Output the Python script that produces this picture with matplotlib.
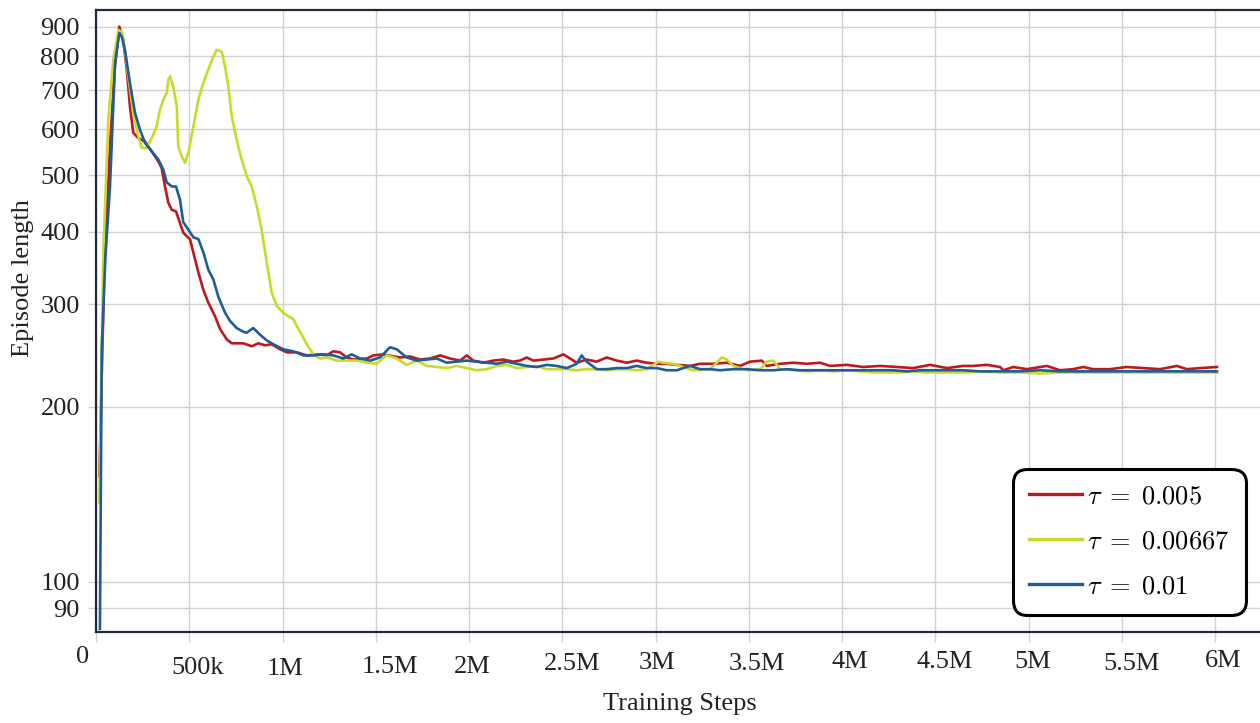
import numpy as np
import matplotlib
matplotlib.use('Agg')
import matplotlib.pyplot as plt
import matplotlib.transforms as mtransforms
from matplotlib.ticker import NullLocator

plt.rcParams['font.family'] = ['Liberation Serif', 'DejaVu Serif']
plt.rcParams['mathtext.fontset'] = 'cm'

# training steps in thousands, episode length
red_k = [18, 45, 75, 100, 125, 146, 165, 182, 200, 227,
         263, 299, 334, 352, 370, 388, 406, 429, 450, 468,
         504, 522, 549, 575, 602, 638, 665, 701, 728, 763,
         790, 835, 870, 906, 942, 987, 1023, 1076, 1130, 1201,
         1237, 1272, 1308, 1344, 1380, 1452, 1487, 1541, 1594, 1630,
         1684, 1737, 1791, 1845, 1898, 1952, 1988, 2023, 2077, 2130,
         2184, 2238, 2273, 2309, 2345, 2399, 2452, 2506, 2542, 2577,
         2631, 2685, 2738, 2792, 2846, 2899, 2953, 3006, 3060, 3114,
         3185, 3239, 3310, 3382, 3453, 3507, 3570, 3596, 3668, 3739,
         3811, 3882, 3936, 4026, 4113, 4204, 4295, 4381, 4472, 4563,
         4649, 4703, 4777, 4847, 4865, 4918, 4991, 5098, 5169, 5239,
         5293, 5346, 5437, 5527, 5614, 5705, 5795, 5849, 5920, 6010]
red_v = [152, 350, 560, 760, 900, 855, 759, 656, 591, 579,
         571, 549, 528, 514, 478, 448, 436, 433, 414, 398,
         388, 368, 340, 318, 302, 286, 272, 261, 257, 257,
         257, 254, 257, 255, 256, 251, 248, 248, 245, 246,
         245, 249, 248, 243, 241, 242, 245, 246, 244, 243,
         244, 241, 242, 245, 242, 240, 245, 240, 238, 240,
         241, 239, 240, 243, 240, 241, 242, 246, 242, 238,
         241, 239, 243, 240, 238, 240, 238, 237, 237, 236,
         235, 237, 237, 238, 235, 239, 240, 235, 237, 238,
         237, 238, 235, 236, 234, 235, 234, 233, 236, 233,
         235, 235, 236, 234, 231, 234, 232, 235, 231, 232,
         234, 232, 232, 234, 233, 232, 235, 232, 233, 234]

yel_k = [18, 39, 66, 93, 120, 138, 155, 173, 200, 227,
         245, 272, 299, 325, 343, 361, 379, 388, 397, 414,
         433, 441, 460, 477, 495, 522, 549, 575, 602, 629,
         647, 674, 692, 709, 728, 754, 781, 808, 835, 862,
         888, 915, 942, 969, 1004, 1031, 1058, 1076, 1103, 1130,
         1165, 1201, 1237, 1291, 1344, 1398, 1452, 1505, 1559, 1612,
         1666, 1720, 1773, 1827, 1880, 1934, 1988, 2041, 2095, 2149,
         2202, 2256, 2309, 2363, 2417, 2470, 2524, 2577, 2631, 2685,
         2738, 2792, 2846, 2899, 2953, 3015, 3042, 3096, 3149, 3203,
         3292, 3328, 3355, 3382, 3418, 3489, 3561, 3596, 3632, 3668,
         3739, 3811, 3882, 3954, 4026, 4097, 4167, 4238, 4310, 4381,
         4452, 4524, 4595, 4668, 4740, 4847, 4954, 5062, 5169, 5276,
         5383, 5490, 5598, 5705, 5812, 5920, 6010]
yel_v = [137, 368, 623, 789, 888, 882, 821, 739, 639, 583,
         557, 557, 579, 606, 648, 674, 692, 729, 739, 710,
         656, 560, 538, 525, 546, 606, 674, 720, 759, 799,
         821, 815, 768, 710, 631, 575, 532, 498, 478, 442,
         403, 354, 314, 298, 290, 286, 283, 275, 266, 256,
         246, 242, 243, 240, 240, 240, 238, 237, 245, 242,
         236, 240, 235, 234, 233, 235, 233, 231, 232, 235,
         236, 233, 234, 235, 232, 232, 232, 231, 232, 232,
         231, 232, 232, 231, 232, 239, 238, 237, 234, 231,
         232, 238, 243, 241, 235, 231, 232, 239, 240, 232,
         231, 230, 231, 230, 231, 230, 229, 229, 229, 230,
         229, 229, 229, 229, 230, 229, 229, 228, 229, 229,
         229, 229, 229, 229, 229, 229, 229]

blue_k = [21, 31, 50, 75, 102, 125, 138, 155, 182, 209,
          236, 263, 299, 334, 361, 379, 406, 429, 450, 468,
          495, 522, 549, 576, 602, 629, 656, 692, 718, 754,
          790, 808, 843, 879, 915, 951, 1004, 1058, 1112, 1165,
          1219, 1272, 1326, 1371, 1416, 1469, 1523, 1576, 1612, 1666,
          1720, 1773, 1827, 1880, 1934, 1988, 2041, 2095, 2149, 2202,
          2256, 2309, 2363, 2417, 2470, 2524, 2577, 2604, 2631, 2685,
          2738, 2792, 2846, 2899, 2953, 3006, 3060, 3114, 3185, 3239,
          3292, 3346, 3418, 3489, 3561, 3632, 3704, 3775, 3847, 3918,
          3989, 4060, 4131, 4204, 4275, 4345, 4417, 4488, 4563, 4649,
          4740, 4847, 4954, 5062, 5169, 5276, 5383, 5490, 5598, 5705,
          5812, 5920, 6010]
blue_v = [83, 251, 360, 478, 780, 877, 865, 821, 720, 640,
          598, 568, 549, 532, 511, 486, 478, 478, 454, 415,
          403, 391, 388, 368, 344, 331, 309, 290, 281, 273,
          269, 268, 273, 266, 260, 256, 251, 249, 245, 245,
          246, 245, 242, 246, 242, 240, 243, 253, 251, 243,
          240, 241, 242, 238, 239, 240, 239, 238, 237, 239,
          237, 235, 234, 236, 235, 233, 237, 245, 239, 232,
          232, 233, 233, 235, 233, 233, 231, 231, 235, 232,
          232, 231, 232, 232, 231, 231, 232, 231, 231, 231,
          231, 231, 231, 231, 231, 230, 231, 231, 231, 231,
          230, 230, 230, 231, 230, 230, 230, 230, 230, 230,
          230, 230, 230]

series_labels = [r'$\tau \;=\; 0.005$', r'$\tau \;=\; 0.00667$', r'$\tau \;=\; 0.01$']
y_ticks = [90, 100, 200, 300, 400, 500, 600, 700, 800, 900]
x_ticks = [0, 0.5e6, 1e6, 1.5e6, 2e6, 2.5e6, 3e6, 3.5e6, 4e6, 4.5e6, 5e6, 5.5e6, 6e6]
x_tick_labels = ['0', '500k', '1M', '1.5M', '2M', '2.5M', '3M', '3.5M', '4M', '4.5M', '5M', '5.5M', '6M']

# label nudges in pixels (the original labels sit a bit off their ticks)
x_lab_dx = [-13, 8, 2.5, 14, 3, 10, 1.5, 8, 8, 9.5, 4, 10, 8.5]
x_lab_base = [663, 674, 675, 673, 673, 670, 669, 670, 668, 668, 668, 670, 667]

W, H = 1260, 723
ax_l, ax_r, ax_t, ax_b = 96, 1260, 10, 632

fig = plt.figure(figsize=(W / 100, H / 100), dpi=100)
ax = fig.add_axes([ax_l / W, (H - ax_b) / H, (ax_r - ax_l) / W, (ax_b - ax_t) / H])

ax.plot(np.array(red_k) * 1e3, red_v, color='#c0181f', lw=1.9, label=series_labels[0])
ax.plot(np.array(yel_k) * 1e3, yel_v, color='#c8db2a', lw=1.9, label=series_labels[1])
ax.plot(np.array(blue_k) * 1e3, blue_v, color='#1f5d9a', lw=1.9, label=series_labels[2])

ax.set_yscale('log')
ax.set_xlim(0, 6.241e6)
ax.set_ylim(82, 961)
ax.set_yticks(y_ticks, [str(t) for t in y_ticks])
ax.yaxis.set_minor_locator(NullLocator())
ax.set_xticks(x_ticks)
ax.tick_params(labelbottom=False)
ax.xaxis.set_minor_locator(NullLocator())

ax.grid(True, color='#d2d2d2', lw=1.0)
ax.set_axisbelow(True)
ax.tick_params(axis='y', length=5.8, width=1, color='#d2d2d2', labelsize=19,
               labelcolor='#222222', pad=5.8)
ax.tick_params(axis='x', length=7, width=1, color='#d2d2d2')

ax.spines['right'].set_visible(False)
for s in ['left', 'bottom', 'top']:
    ax.spines[s].set_color('#1f2b38')
    ax.spines[s].set_linewidth(1.6)

for t, lab, dx, base in zip(x_ticks, x_tick_labels, x_lab_dx, x_lab_base):
    tr = ax.get_xaxis_transform() + mtransforms.ScaledTranslation(dx / 100, 0, fig.dpi_scale_trans)
    ax.text(t, (ax_b - base) / (ax_b - ax_t), lab, transform=tr, ha='center', va='baseline',
            fontsize=19, color='#222222', clip_on=False)

ax.set_ylabel('Episode length', fontsize=19, color='#222222')
ax.yaxis.set_label_coords((33.7 - ax_l) / (ax_r - ax_l), (ax_b - 278) / (ax_b - ax_t))
ax.set_xlabel('Training Steps', fontsize=19, color='#222222')
ax.xaxis.set_label_coords((680 - ax_l) / (ax_r - ax_l), (ax_b - 693) / (ax_b - ax_t))

leg = ax.legend(loc='lower right', bbox_to_anchor=((1246 - ax_l) / (ax_r - ax_l), (ax_b - 615) / (ax_b - ax_t)),
                borderaxespad=0, fontsize=19, handlelength=2.0, handletextpad=0.2,
                labelspacing=0.82, borderpad=0.62, fancybox=True, framealpha=1)
frame = leg.get_frame()
frame.set_edgecolor('black')
frame.set_linewidth(2.2)
frame.set_boxstyle('round,pad=0,rounding_size=0.55')
for line in leg.get_lines():
    line.set_linewidth(2.4)

fig.savefig('out.png', dpi=100)
